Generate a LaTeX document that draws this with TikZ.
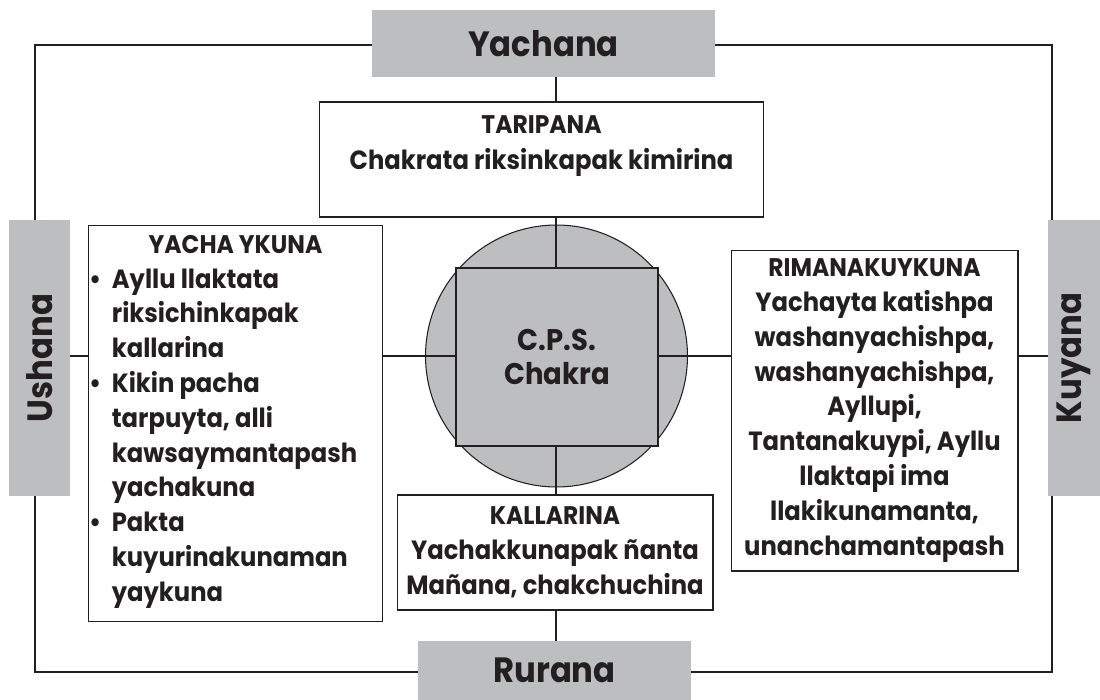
\documentclass[tikz,border=0pt]{standalone}
\usepackage{fontspec}
\setmainfont{Poppins}[FakeStretch=0.92]
\usetikzlibrary{positioning}
\definecolor{BandClr}{RGB}{188,190,192}
\definecolor{InkClr}{RGB}{35,31,32}

\tikzset{
  band/.style={fill=BandClr, inner sep=0pt, text=InkClr,
    font=\bfseries\fontsize{20}{24}\selectfont},
  txtbox/.style={draw=InkClr, line width=0.6pt, fill=white, inner sep=0pt,
    align=center, text=InkClr, font=\bfseries\fontsize{15}{19.8}\selectfont},
  frame/.style={draw=InkClr, line width=1.6pt},
  link/.style={draw=InkClr, line width=0.6pt}
}
\newcommand{\ttl}[1]{{\fontsize{14.5}{19.8}\selectfont #1}}

\begin{document}
\begin{tikzpicture}[x=0.02cm, y=-0.02cm]
\useasboundingbox (0,0) rectangle (1100,700);
\coordinate (nw) at (35,45);
\coordinate (se) at (1052,672);
\coordinate (hub) at (556,356);

% outer frame
\draw[frame] (nw) rectangle (se);

% the four sides
\node[band, minimum width=6.86cm, minimum height=1.34cm] (yach) at (543.5,43.5) {Yachana};
\node[band, minimum width=5.46cm, minimum height=1.18cm] (rur) at (554.5,670.5) {Rurana};
\node[band, rotate=90, minimum width=5.52cm, minimum height=1.22cm] (ush) at (39.5,358) {Ushana};
\node[band, rotate=90, minimum width=5.52cm, minimum height=1.04cm] (kuy) at (1074,358) {Kuyana};

% chakra in the middle
\node[circle, draw=InkClr, fill=BandClr, line width=0.6pt, minimum size=5.24cm] (cir) at (556.5,356) {};
\node[draw=InkClr, fill=BandClr, line width=0.6pt, inner sep=0pt, align=center, text=InkClr,
  font=\bfseries\fontsize{17}{19.3}\selectfont, minimum width=4.04cm, minimum height=3.56cm] (sq) at (557,357)
  {C.P.S.\\Chakra};

% text boxes
\node[txtbox, minimum width=8.9cm, minimum height=2.3cm] (tari) at (541.5,159.5) {};
\node[below=0.28cm of tari.north, align=center, text=InkClr, inner sep=0pt,
  font=\bfseries\fontsize{15}{20.5}\selectfont] (taritxt)
  {\ttl{TARIPANA}\\Chakrata riksinkapak kimirina};

\node[txtbox, minimum width=5.9cm, minimum height=7.94cm] (yachay) at (235.5,423.5)
  {\ttl{YACHA YKUNA}\\
   \begin{tabular}[t]{@{}l@{\hspace{6pt}}l@{}}
   \textbullet & Ayllu llaktata\\
               & riksichinkapak\\
               & kallarina\\
   \textbullet & Kikin pacha\\
               & tarpuyta, alli\\
               & kawsaymantapash\\
               & yachakuna\\
   \textbullet & Pakta\\
               & kuyurinakunaman\\
               & yaykuna
   \end{tabular}\hspace*{14pt}};

\node[txtbox, minimum width=5.74cm, minimum height=6.42cm] (riman) at (874.5,410.5)
  {\ttl{RIMANAKUYKUNA}\\Yachayta katishpa\\washanyachishpa,\\washanyachishpa,\\Ayllupi,\\
   Tantanakuypi, Ayllu\\llaktapi ima\\llakikunamanta,\\unanchamantapash};

\node[txtbox, minimum width=6.32cm, minimum height=2.3cm] (kall) at (555,552.5)
  {\ttl{KALLARINA}\\Yachakkunapak ñanta\\Mañana, chakchuchina};

% links
\draw[link] (yach.south -| hub) -- (tari.north -| hub);
\draw[link] (tari.south -| hub) -- (sq.north -| hub);
\draw[link] (sq.south -| hub) -- (kall.north -| hub);
\draw[link] (kall.south -| hub) -- (rur.north -| hub);
\draw[link] (ush.south |- hub) -- (yachay.west |- hub);
\draw[link] (yachay.east |- hub) -- (sq.west |- hub);
\draw[link] (sq.east |- hub) -- (riman.west |- hub);
\draw[link] (riman.east |- hub) -- (kuy.north |- hub);

\end{tikzpicture}
\end{document}
